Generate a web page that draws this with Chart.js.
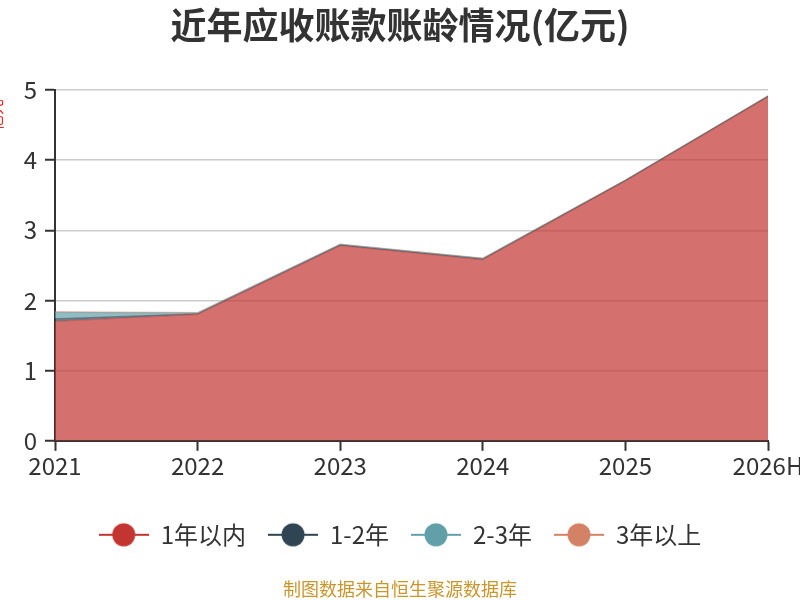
<!DOCTYPE html>
<html><head><meta charset="utf-8">
<script src="https://cdn.jsdelivr.net/npm/chart.js@4"></script>
<style>html,body{margin:0;padding:0;background:#fff}#wrap{width:800px;height:600px}</style>
</head><body><div id="wrap"><canvas id="c" width="800" height="600"></canvas></div>
<script>
const categories = ['2021', '2022', '2023', '2024', '2025', '2026H'];
const within1Year = [1.70, 1.80, 2.78, 2.58, 3.70, 4.90];
const oneToTwoYears = [0.04, 0.01, 0.01, 0.01, 0.01, 0.01];
const twoToThreeYears = [0.09, 0.01, 0.01, 0.01, 0.005, 0.005];
const over3Years = [0.01, 0.01, 0.005, 0.005, 0.005, 0.005];
const seriesNames = ['1年以内', '1-2年', '2-3年', '3年以上'];
const yTickValues = [0, 1, 2, 3, 4, 5];
const titleText = '近年应收账款账龄情况(亿元)';
const footerText = '制图数据来自恒生聚源数据库';
const yAxisTitle = '亿元';

const colors = ['#c23531', '#2f4554', '#61a0a8', '#d48265'];
const FONT = '"Noto Sans CJK SC", "Noto Sans", sans-serif';

function hexA(hex, a) {
  const n = parseInt(hex.slice(1), 16);
  return `rgba(${(n >> 16) & 255},${(n >> 8) & 255},${n & 255},${a})`;
}
function legendIcon(color) {
  const c = document.createElement('canvas');
  c.width = 50; c.height = 26;
  const g = c.getContext('2d');
  g.strokeStyle = color; g.lineWidth = 2;
  g.beginPath(); g.moveTo(0, 13); g.lineTo(50, 13); g.stroke();
  g.fillStyle = color;
  g.beginPath(); g.arc(25, 13, 11.5, 0, Math.PI * 2); g.fill();
  return c;
}

const seriesData = [within1Year, oneToTwoYears, twoToThreeYears, over3Years];
const datasets = seriesData.map((d, i) => ({
  label: seriesNames[i],
  data: d,
  borderColor: hexA(colors[i], 0.5),
  backgroundColor: hexA(colors[i], 0.7),
  borderWidth: 1,
  fill: i === 0 ? 'origin' : '-1',
  pointRadius: 0,
  pointHoverRadius: 0,
  pointStyle: legendIcon(colors[i]),
  tension: 0
}));

const extras = {
  id: 'extras',
  afterDraw(chart) {
    const ctx = chart.ctx;
    ctx.save();
    ctx.font = `18px ${FONT}`;
    ctx.fillStyle = '#c9962c';
    ctx.textAlign = 'center';
    ctx.textBaseline = 'middle';
    ctx.fillText(footerText, 400, 589);
    ctx.translate(-4, 115);
    ctx.rotate(-Math.PI / 2);
    ctx.font = `16px ${FONT}`;
    ctx.fillStyle = '#ff2020';
    ctx.fillText(yAxisTitle, 0, 0);
    ctx.restore();
  }
};

new Chart(document.getElementById('c'), {
  type: 'line',
  data: { labels: categories, datasets },
  options: {
    responsive: false,
    animation: false,
    layout: { padding: { left: 0, right: 0, top: 0, bottom: 43.2 } },
    plugins: {
      title: {
        display: true, text: titleText, color: '#333',
        font: { family: FONT, size: 36, weight: 'bold' },
        padding: { top: 3.4, bottom: 43.4 }
      },
      legend: {
        position: 'bottom',
        labels: {
          usePointStyle: true, pointStyleWidth: 50,
          color: '#333', padding: 22,
          font: { family: FONT, size: 24 }
        }
      },
      tooltip: { enabled: false }
    },
    scales: {
      x: {
        type: 'category', offset: false,
        afterFit(s) { s.height = 60; s.paddingLeft = 0; s.paddingRight = 32; },
        grid: { drawOnChartArea: false, tickColor: '#333', tickLength: 10, tickWidth: 2 },
        border: { color: '#333', width: 2 },
        ticks: { color: '#333', font: { family: FONT, size: 24 }, autoSkip: false, maxRotation: 0, padding: 1 }
      },
      y: {
        stacked: true, min: 0, max: 5,
        afterFit(s) { s.width = 55; s.paddingTop = 0; s.paddingBottom = 0; },
        afterBuildTicks(s) { s.ticks = yTickValues.map(v => ({ value: v })); },
        grid: { color: '#cccccc', lineWidth: 1.5, tickColor: '#333', tickLength: 10, tickWidth: 2 },
        border: { color: '#333', width: 2 },
        ticks: { color: '#333', font: { family: FONT, size: 24 }, padding: 8 }
      }
    }
  },
  plugins: [extras]
});
</script>
</body></html>
